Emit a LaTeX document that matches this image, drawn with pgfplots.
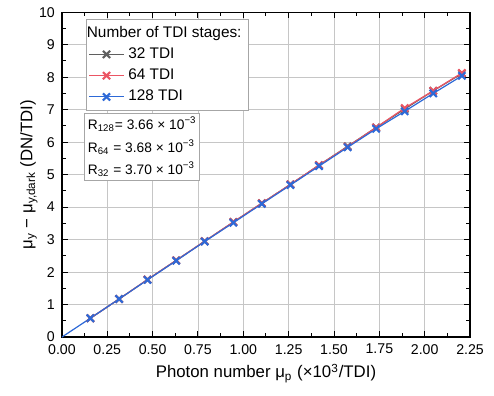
\documentclass[border=0pt]{standalone}
\usepackage{fontspec}
\setmainfont{Liberation Sans}
\usepackage{pgfplots}
\pgfplotsset{compat=1.18}
\definecolor{cgray}{RGB}{95,95,95}
\definecolor{cred}{RGB}{235,85,100}
\definecolor{cblue}{RGB}{45,105,215}
\begin{document}
\begin{tikzpicture}
\begin{axis}[
  scale only axis, width=201bp, height=160bp,
  xmin=0, xmax=2.25, ymin=0, ymax=10,
  xtick={0,0.25,...,2.25}, ytick={0,1,...,10},
  minor x tick num=1, minor y tick num=1,
  xticklabel style={/pgf/number format/.cd, fixed, fixed zerofill, precision=2},
  /pgf/number format/assume math mode=true,
  tick label style={font=\fontsize{7}{8}\selectfont},
  label style={font=\fontsize{8.3}{9}\selectfont},
  grid=major, grid style={gray!45, line width=0.4pt},
  major tick length=3pt, minor tick length=1.8pt,
  tick style={black, line width=0.5pt},
  axis line style={line width=0.6pt},
  xlabel={Photon number μ\textsubscript{p} (×10\textsuperscript{3}/TDI)},
  ylabel={μ\textsubscript{y} − μ\textsubscript{y,dark} (DN/TDI)},
  xlabel style={yshift=2pt},
  ylabel style={yshift=-6.2pt},
  legend cell align=left,
  legend style={at={(0.058,0.98)}, anchor=north west, font=\fontsize{7.6}{9}\selectfont,
    draw=gray!70, line width=0.5pt, row sep=-0.3pt, inner sep=1.3pt},
  legend image code/.code={\draw[#1, mark=none, line width=0.5pt] (0cm,0cm) -- (0.6cm,0cm);
     \draw[#1] plot[only marks] coordinates {(0.3cm,0cm)};},
  every axis plot/.append style={line width=0.6pt, mark=x, mark size=2.5pt, mark options={line width=1.05pt}},
]
\addlegendimage{empty legend}
\addlegendentry{\hspace{-0.72cm}Number of TDI stages:}
\addplot[cgray] coordinates {
(0.157,0.58) (0.315,1.17) (0.472,1.77) (0.630,2.36) (0.787,2.95) (0.945,3.54) (1.102,4.12) (1.260,4.70) (1.417,5.29) (1.575,5.87) (1.732,6.45) (1.890,7.02) (2.047,7.58) (2.205,8.11)};
\addlegendentry{32 TDI}
\addplot[cred] coordinates {
(0.157,0.58) (0.315,1.17) (0.472,1.77) (0.630,2.36) (0.787,2.95) (0.945,3.54) (1.102,4.12) (1.260,4.70) (1.417,5.29) (1.575,5.86) (1.732,6.45) (1.890,7.05) (2.047,7.58) (2.205,8.13)};
\addlegendentry{64 TDI}
\addplot[cblue] coordinates {
(0.157,0.58) (0.315,1.17) (0.472,1.76) (0.630,2.35) (0.787,2.94) (0.945,3.52) (1.102,4.10) (1.260,4.68) (1.417,5.26) (1.575,5.84) (1.732,6.41) (1.890,6.95) (2.047,7.50) (2.205,8.04)};
\addlegendentry{128 TDI}
\addplot[cblue, mark=none, forget plot] coordinates {(0,0) (0.157,0.58)};
\node[anchor=north west, draw=gray!70, line width=0.5pt, fill=white, align=left, inner sep=1.5pt,
  font=\fontsize{6.8}{11.2}\selectfont] at (rel axis cs:0.055,0.689)
  {R\textsubscript{128}= 3.66 × 10\textsuperscript{−3}\\
   R\textsubscript{64} = 3.68 × 10\textsuperscript{−3}\\
   R\textsubscript{32} = 3.70 × 10\textsuperscript{−3}};
\end{axis}
\path (-30.5bp,-29bp) rectangle (212.8bp,166bp);
\end{tikzpicture}
\end{document}
